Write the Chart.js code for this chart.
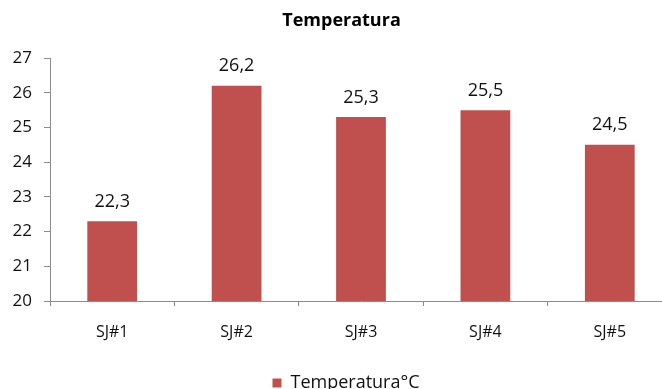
<!DOCTYPE html>
<html>
<head>
<meta charset="utf-8">
<script src="https://cdn.jsdelivr.net/npm/chart.js@4/dist/chart.umd.min.js"></script>
<style>
  html, body { margin: 0; padding: 0; background: #fff; overflow: hidden; }
  #wrap { width: 683px; height: 402px; }
</style>
</head>
<body>
<div id="wrap"><canvas id="c" width="683" height="402"></canvas></div>
<script>
const categories = ['SJ#1', 'SJ#2', 'SJ#3', 'SJ#4', 'SJ#5'];
const temperatures = [22.3, 26.2, 25.3, 25.5, 24.5];
const seriesName = 'Temperatura°C';
const chartTitle = 'Temperatura';

const FONT = '"Open Sans", sans-serif';
const TEXT = '#111';
const AXIS = '#8c8c8c';

// Value labels above each bar, using a decimal comma
const valueLabels = {
  id: 'valueLabels',
  afterDatasetsDraw(chart) {
    const ctx = chart.ctx;
    ctx.save();
    ctx.font = '18px ' + FONT;
    ctx.fillStyle = TEXT;
    ctx.textAlign = 'center';
    ctx.textBaseline = 'alphabetic';
    chart.getDatasetMeta(0).data.forEach((bar, i) => {
      const v = chart.data.datasets[0].data[i];
      ctx.fillText(v.toFixed(1).replace('.', ','), bar.x, bar.y - 14.5);
    });
    ctx.restore();
  }
};

// Nudge the title and legend a little to the right of the full-width centre
const boxShift = {
  id: 'boxShift',
  afterLayout(chart) {
    const t = chart.titleBlock;
    if (t) { t.left += 5.5; t.right += 5.5; }
    const l = chart.legend;
    if (l) { l.left += 10; l.right += 10; }
  }
};

new Chart(document.getElementById('c'), {
  type: 'bar',
  data: {
    labels: categories,
    datasets: [{
      label: seriesName,
      data: temperatures,
      backgroundColor: '#C0504D',
      borderWidth: 0,
      barPercentage: 0.4,
      categoryPercentage: 1.0
    }]
  },
  options: {
    responsive: false,
    animation: false,
    devicePixelRatio: 1,
    layout: { padding: { left: 0, right: 11, top: 0, bottom: 0 } },
    plugins: {
      title: {
        display: true,
        text: chartTitle,
        color: '#000',
        font: { family: FONT, size: 18, weight: 'bold' },
        padding: { top: 10.5, bottom: 26 }
      },
      legend: {
        position: 'bottom',
        labels: {
          color: TEXT,
          font: { family: FONT, size: 18 },
          boxWidth: 9,
          boxHeight: 9,
          padding: 4
        }
      },
      tooltip: { enabled: false }
    },
    scales: {
      x: {
        grid: {
          display: true,
          drawOnChartArea: false,
          drawTicks: true,
          tickLength: 5,
          color: AXIS,
          offset: true
        },
        border: { color: AXIS },
        ticks: { color: TEXT, font: { family: FONT, size: 16 }, padding: 17 },
        afterFit(s) { s.height = 69; }
      },
      y: {
        min: 20,
        max: 27,
        grid: {
          display: true,
          drawOnChartArea: false,
          drawTicks: true,
          tickLength: 6,
          color: AXIS
        },
        border: { color: AXIS },
        ticks: {
          stepSize: 1,
          color: TEXT,
          font: { family: FONT, size: 17 },
          padding: 12
        },
        afterFit(s) { s.width = 50; }
      }
    }
  },
  plugins: [valueLabels, boxShift]
});
</script>
</body>
</html>
